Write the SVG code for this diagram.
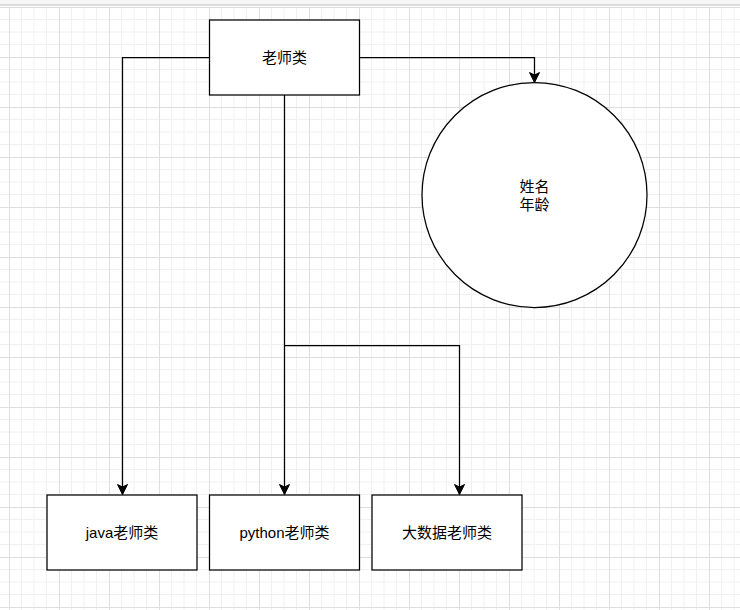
<svg xmlns="http://www.w3.org/2000/svg" width="740" height="610" viewBox="0 0 740 610">
  <defs>
    <pattern id="grid" patternUnits="userSpaceOnUse" x="9" y="7" width="50" height="50">
      <path d="M12.5 0V50M25 0V50M37.5 0V50M0 12.5H50M0 25H50M0 37.5H50" stroke="#f0f0f0" stroke-width="1" fill="none"/>
      <path d="M0.5 0V50M0 0.5H50" stroke="#dedede" stroke-width="1" fill="none"/>
    </pattern>
    <marker id="arrow" markerUnits="userSpaceOnUse" markerWidth="14" markerHeight="14" refX="11" refY="6" orient="auto">
      <path d="M11 6 L1 1 L3.5 6 L1 11 Z" fill="#000" stroke="#000" stroke-width="1"/>
    </marker>
    <style>
      .box { fill: #fff; stroke: #000; stroke-width: 1.25; }
      .edge { fill: none; stroke: #000; stroke-width: 1.25; }
      .lbl { font-family: "Liberation Sans", "Noto Sans CJK SC", sans-serif; font-size: 15px; fill: #000; text-anchor: middle; }
    </style>
  </defs>
  <rect x="0" y="0" width="740" height="610" fill="#fff"/>
  <rect x="0" y="7" width="740" height="603" fill="url(#grid)"/>
  <rect x="0" y="0" width="740" height="4" fill="#f6f6f6"/>
  <rect x="0" y="4" width="740" height="2" fill="#dcdcdc"/>

  <g id="connectors">
    <path class="edge" d="M209.5 57.5 H122.5 V494.5" marker-end="url(#arrow)"/>
    <path class="edge" d="M359.5 57.5 H534.5 V82.5" marker-end="url(#arrow)"/>
    <path class="edge" d="M284.5 95 V494.5" marker-end="url(#arrow)"/>
    <path class="edge" d="M284.5 345.5 H459.5 V494.5" marker-end="url(#arrow)"/>
  </g>

  <g id="teacher">
    <rect class="box" x="209.5" y="20" width="150" height="75"/>
    <text class="lbl" x="284.5" y="62.5">老师类</text>
  </g>
  <g id="attributes">
    <circle class="box" cx="534.5" cy="195" r="112.5"/>
    <text class="lbl" x="534.5" y="192">姓名</text>
    <text class="lbl" x="534.5" y="210">年龄</text>
  </g>
  <g id="java-teacher">
    <rect class="box" x="47" y="495" width="150" height="75"/>
    <text class="lbl" x="122" y="538">java老师类</text>
  </g>
  <g id="python-teacher">
    <rect class="box" x="209.5" y="495" width="150" height="75"/>
    <text class="lbl" x="284.5" y="538">python老师类</text>
  </g>
  <g id="bigdata-teacher">
    <rect class="box" x="372" y="495" width="150" height="75"/>
    <text class="lbl" x="447" y="538">大数据老师类</text>
  </g>
</svg>
